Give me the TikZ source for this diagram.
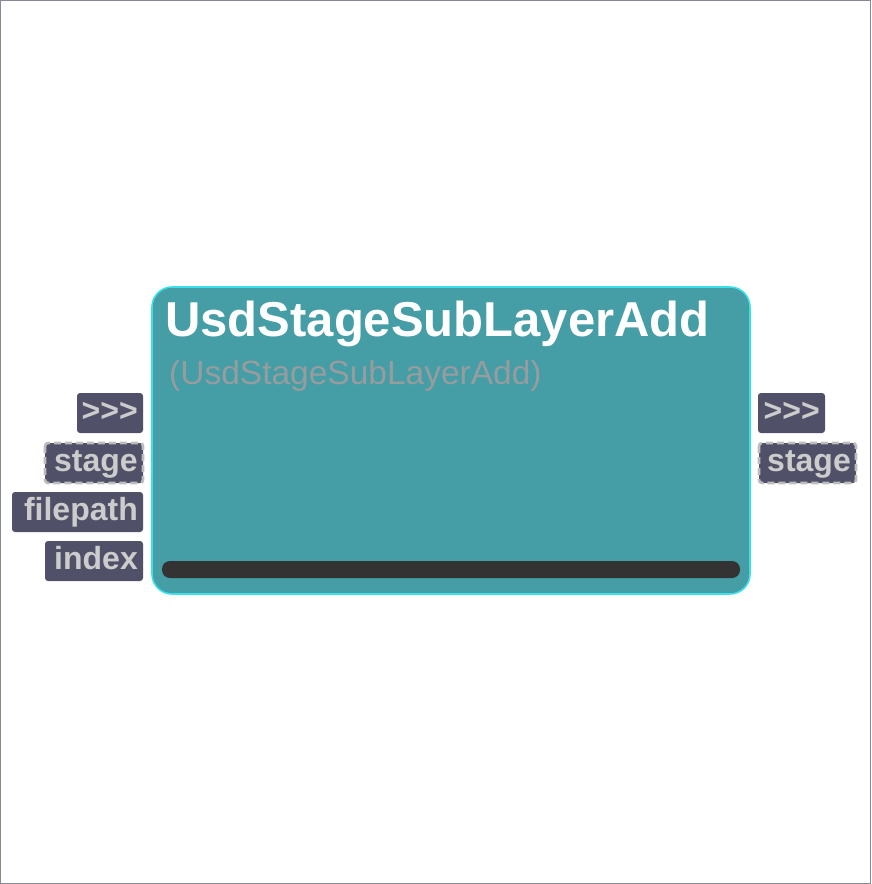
\documentclass[tikz,border=0pt]{standalone}
\usepackage{fontspec}
\setmainfont{Liberation Sans}
\definecolor{nodefill}{HTML}{459DA5}
\definecolor{nodeedge}{HTML}{3AE0EC}
\definecolor{barcol}{HTML}{333333}
\definecolor{portfill}{HTML}{505068}
\definecolor{porttext}{HTML}{CCCCCC}
\definecolor{dashcol}{HTML}{BDBDBD}
\definecolor{subcol}{HTML}{979C9E}
\definecolor{framecol}{HTML}{888899}
\begin{document}
\begin{tikzpicture}[x=1pt,y=-1pt,
  port/.style={fill=portfill,rounded corners=3pt,inner sep=0pt},
  portdash/.style={port,draw=dashcol,line width=2.6pt,dash pattern=on 7pt off 4pt},
  porttxt/.style={text=porttext,font=\bfseries\fontsize{32}{34}\selectfont,inner sep=0pt,anchor=base east}]
\useasboundingbox (0,0) rectangle (871,884);
\draw[framecol,line width=1.2pt] (0.6,0.6) rectangle (870.4,883.4);
% main node
\draw[fill=nodefill,draw=nodeedge,line width=1.6pt,rounded corners=20pt] (152,287) rectangle (750,594);
\node[text=white,font=\bfseries\fontsize{49}{54}\selectfont,anchor=base west,inner sep=0pt] (title) at (165,336) {UsdStageSubLayerAdd};
\node[text=subcol,font=\fontsize{33.5}{36}\selectfont,anchor=base west,inner sep=0pt] (sub) at (169,384) {(UsdStageSubLayerAdd)};
\fill[barcol,rounded corners=8pt] (162,561) rectangle (740,578);
% left ports
\fill[port] (77,393) rectangle (143,433);
\node[porttxt] (lin) at (138,421) {>{}>{}>};
\draw[portdash] (45,443) rectangle (143,483);
\node[porttxt] (lstage) at (138,471) {stage};
\fill[port] (12,492) rectangle (143,532);
\node[porttxt] (lfile) at (138,520) {filepath};
\fill[port] (45,541) rectangle (143,581);
\node[porttxt] (lindex) at (138,569) {index};
% right ports
\fill[port] (758,393) rectangle (825,433);
\node[porttxt] (rout) at (820,421) {>{}>{}>};
\draw[portdash] (759,443) rectangle (856,483);
\node[porttxt] (rstage) at (851,471) {stage};
\end{tikzpicture}
\end{document}
